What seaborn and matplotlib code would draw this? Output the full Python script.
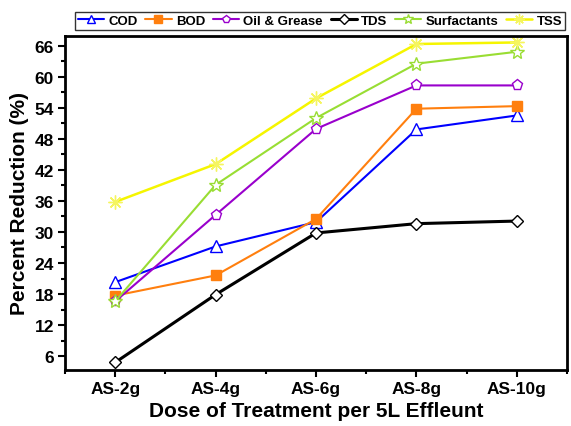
import numpy as np
import pandas as pd
import matplotlib
matplotlib.use("Agg")
import matplotlib.pyplot as plt
from matplotlib.ticker import MultipleLocator
import seaborn as sns

# Dose levels and percent reduction per parameter
doses = ["AS-2g", "AS-4g", "AS-6g", "AS-8g", "AS-10g"]
cod = [20.3, 27.2, 31.9, 49.8, 52.5]
bod = [17.7, 21.6, 32.5, 53.8, 54.3]
oil_grease = [16.6, 33.3, 49.9, 58.3, 58.3]
tds = [4.8, 17.9, 29.8, 31.6, 32.1]
surfactants = [16.6, 39.1, 52.0, 62.5, 64.8]
tss = [35.8, 43.1, 55.8, 66.3, 66.6]

series = {
    "COD": cod,
    "BOD": bod,
    "Oil & Grease": oil_grease,
    "TDS": tds,
    "Surfactants": surfactants,
    "TSS": tss,
}

styles = {
    "COD": dict(color="#0000FF", marker="^", mfc="white", mec="#0000FF", ms=8, lw=1.5),
    "BOD": dict(color="#FF7F0E", marker="s", mfc="#FF7F0E", mec="#FF7F0E", ms=7, lw=1.5),
    "Oil & Grease": dict(color="#9900CC", marker="p", mfc="white", mec="#9900CC", ms=8, lw=1.5),
    "TDS": dict(color="black", marker="D", mfc="white", mec="black", ms=6.5, lw=2.2),
    "Surfactants": dict(color="#99DD33", marker="*", mfc="white", mec="#99DD33", ms=10, lw=1.5),
    "TSS": dict(color="#F5F500", marker=(8, 2, 0), mfc="#F5F560", mec="#F5F560", ms=10, lw=1.8),
}

sns.set_theme(style="ticks")
plt.rcParams["font.family"] = ["Liberation Sans", "DejaVu Sans"]
plt.rcParams["font.weight"] = "bold"
plt.rcParams["text.color"] = "black"
plt.rcParams["axes.labelcolor"] = "black"
plt.rcParams["xtick.color"] = "black"
plt.rcParams["ytick.color"] = "black"

fig = plt.figure(figsize=(5.71, 4.27), dpi=100)
ax = fig.add_axes([0.114, 0.132, 0.879, 0.782])

x = np.arange(len(doses))
for name, vals in series.items():
    st = styles[name]
    df = pd.DataFrame({"x": x, "y": vals})
    sns.lineplot(data=df, x="x", y="y", ax=ax, color=st["color"], lw=st["lw"],
                 marker=st["marker"], markersize=st["ms"],
                 markerfacecolor=st["mfc"], markeredgecolor=st["mec"],
                 markeredgewidth=1.0, label=name)

ax.set_xlim(-0.5, 4.5)
ax.set_ylim(3.4, 67.9)
ax.set_xticks(x)
ax.set_xticklabels(doses, fontsize=12.5, fontweight="bold")
ax.xaxis.set_minor_locator(MultipleLocator(0.5))
ax.yaxis.set_minor_locator(MultipleLocator(3))
ax.set_yticks(np.arange(6, 67, 6))
for lab in ax.get_yticklabels():
    lab.set_fontsize(12.5)
    lab.set_fontweight("bold")

ax.tick_params(which="major", direction="out", length=5, width=1.5, pad=3)
ax.tick_params(which="minor", direction="out", length=3, width=1.5)
for sp in ax.spines.values():
    sp.set_linewidth(2)
    sp.set_color("black")

ax.set_xlabel("Dose of Treatment per 5L Effleunt", fontsize=15, fontweight="bold", labelpad=4)
ax.set_ylabel("Percent Reduction (%)", fontsize=15, fontweight="bold", labelpad=4)

leg = ax.legend(loc="lower left", bbox_to_anchor=(0.02, 1.018), ncol=6,
                frameon=True, fancybox=False, edgecolor="black",
                fontsize=9.5, handlelength=2.0, handletextpad=0.3,
                columnspacing=0.6, borderpad=0.2, borderaxespad=0,
                markerscale=0.75)
leg.get_frame().set_linewidth(1)
for t in leg.get_texts():
    t.set_fontweight("bold")

fig.savefig("out.png", dpi=100)
